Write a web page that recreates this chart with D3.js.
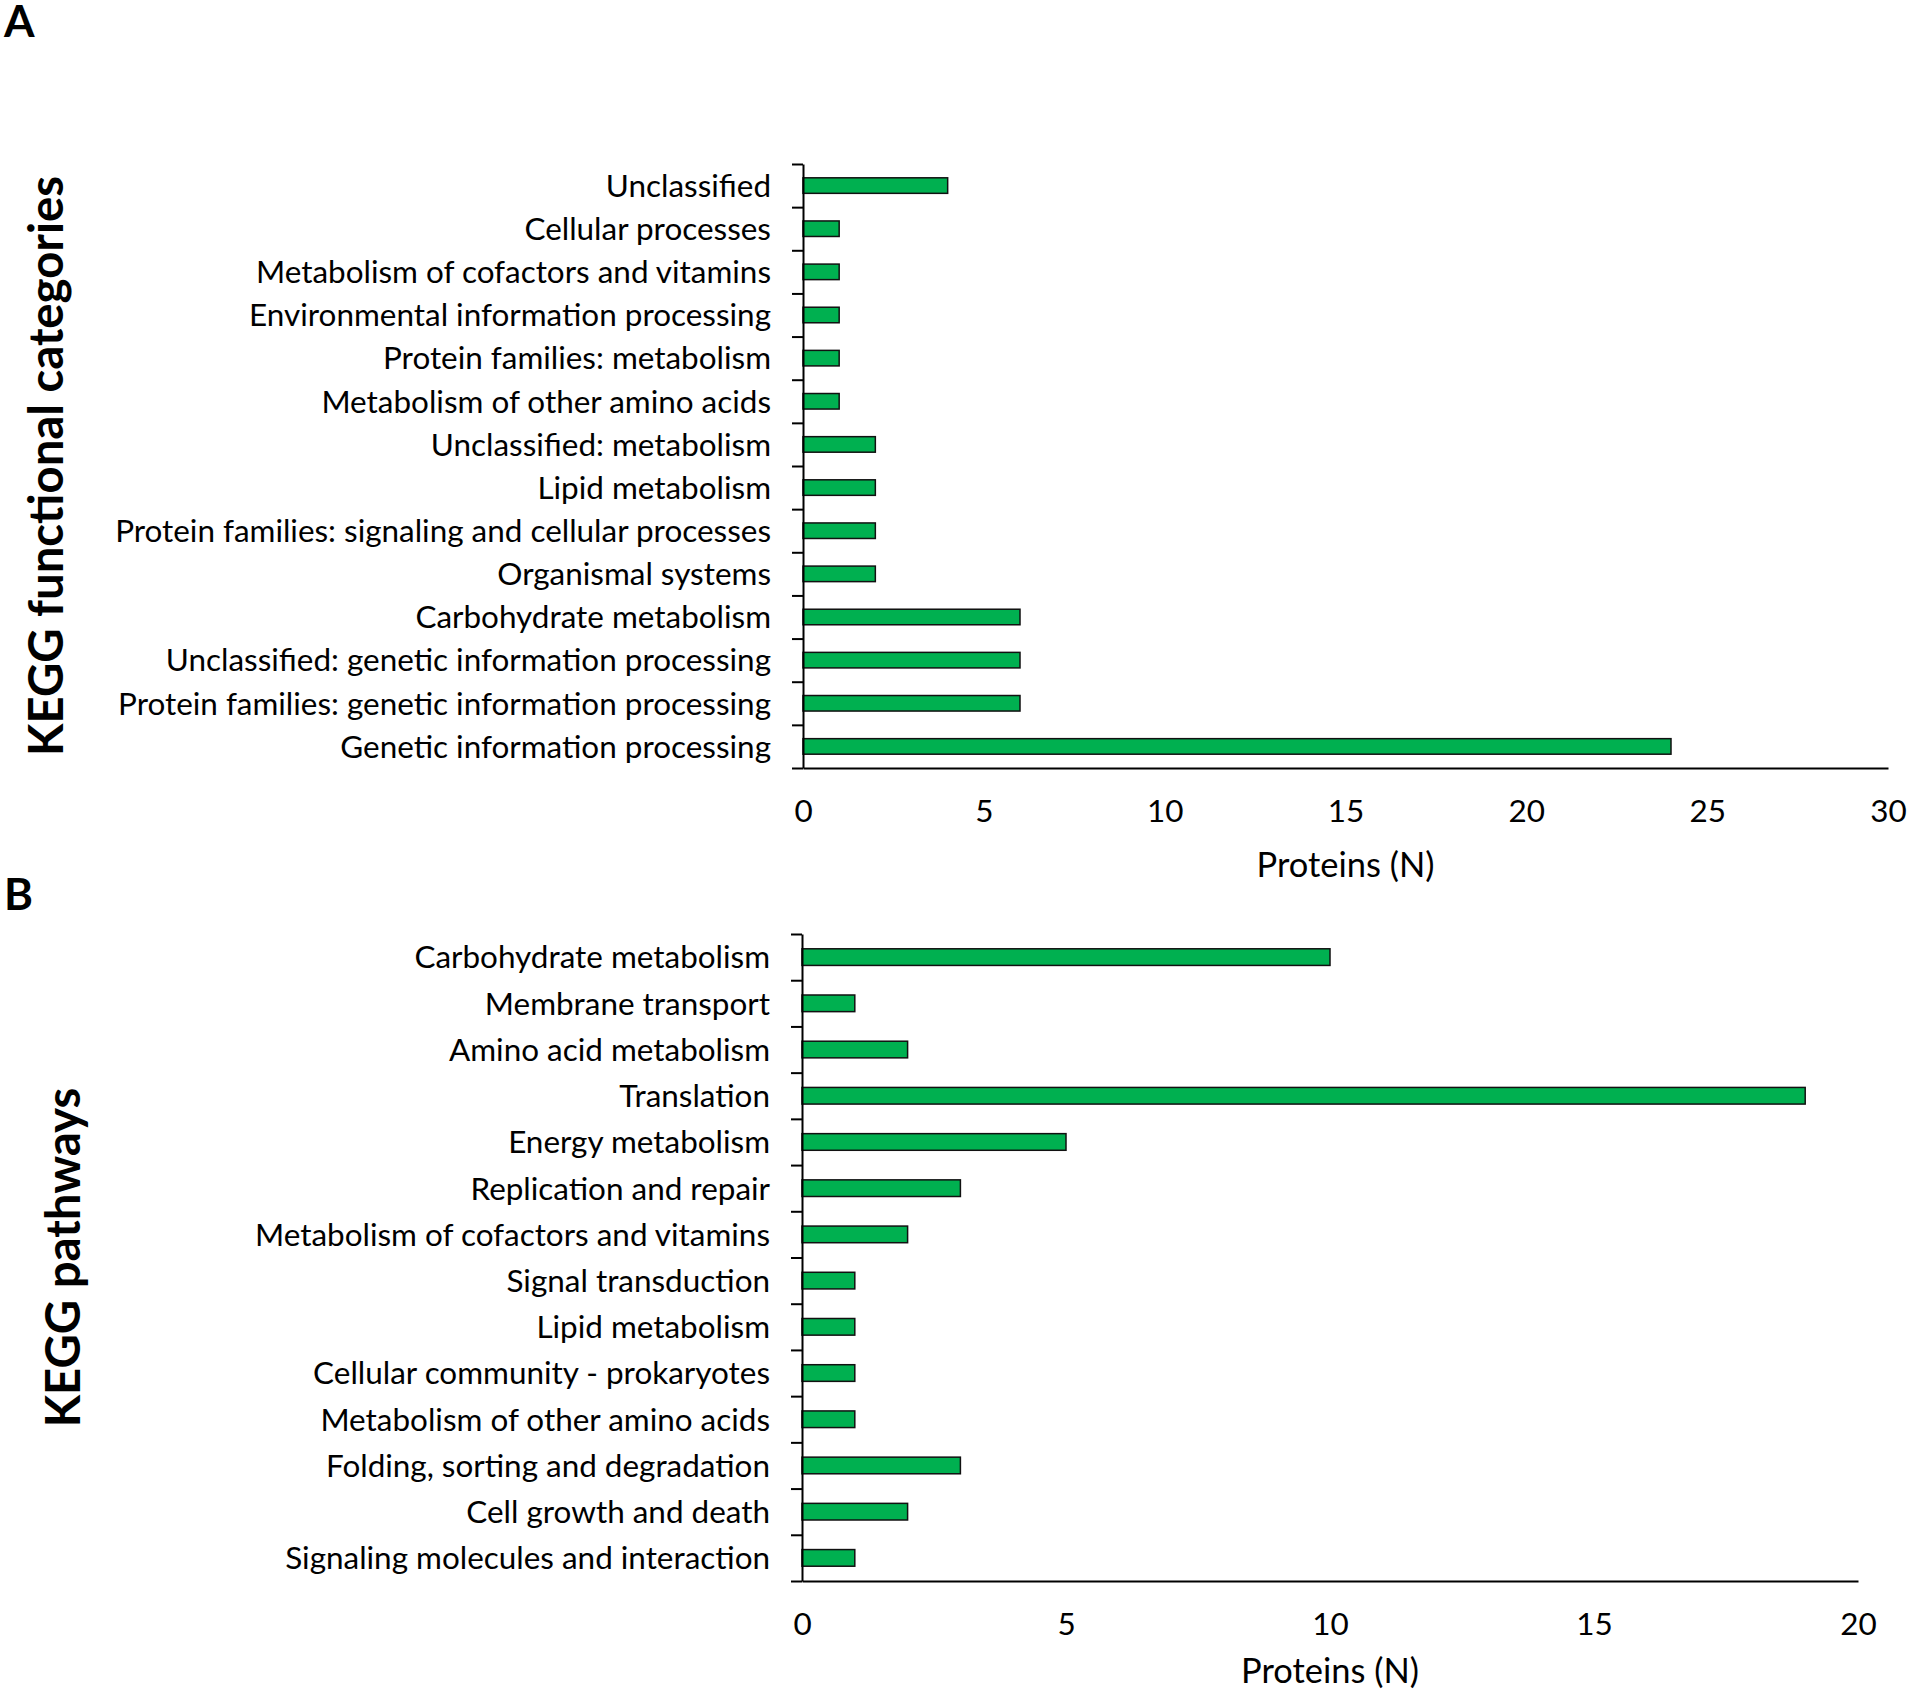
<!DOCTYPE html>
<html>
<head>
<meta charset="utf-8">
<script src="https://cdn.jsdelivr.net/npm/d3@7"></script>
<style>
  body { margin: 0; background: #fff; }
  svg { display: block; }
</style>
</head>
<body>
<div id="chart"></div>
<script>
var svgWidth = 1907;
var svgHeight = 1695;

// panel A: KEGG functional categories (top to bottom)
var catsA = [
  "Unclassified",
  "Cellular processes",
  "Metabolism of cofactors and vitamins",
  "Environmental information processing",
  "Protein families: metabolism",
  "Metabolism of other amino acids",
  "Unclassified: metabolism",
  "Lipid metabolism",
  "Protein families: signaling and cellular processes",
  "Organismal systems",
  "Carbohydrate metabolism",
  "Unclassified: genetic information processing",
  "Protein families: genetic information processing",
  "Genetic information processing"
];
var valuesA = [4, 1, 1, 1, 1, 1, 2, 2, 2, 2, 6, 6, 6, 24];
var ticksA = [0, 5, 10, 15, 20, 25, 30];

// panel B: KEGG pathways (top to bottom)
var catsB = [
  "Carbohydrate metabolism",
  "Membrane transport",
  "Amino acid metabolism",
  "Translation",
  "Energy metabolism",
  "Replication and repair",
  "Metabolism of cofactors and vitamins",
  "Signal transduction",
  "Lipid metabolism",
  "Cellular community - prokaryotes",
  "Metabolism of other amino acids",
  "Folding, sorting and degradation",
  "Cell growth and death",
  "Signaling molecules and interaction"
];
var valuesB = [10, 1, 2, 19, 5, 3, 2, 1, 1, 1, 1, 3, 2, 1];
var ticksB = [0, 5, 10, 15, 20];

var xTitle = "Proteins (N)";

var font = "Lato, 'Open Sans', sans-serif";
var barColor = "#00b050";

var svg = d3.select("#chart")
  .append("svg")
  .attr("width", svgWidth)
  .attr("height", svgHeight);

// measure a string at 100px, used to size the fonts against the picture
function measure(str, weight) {
  var t = svg.append("text")
    .attr("font-family", font)
    .attr("font-weight", weight)
    .attr("font-size", 100)
    .text(str);
  var w = t.node().getComputedTextLength();
  t.remove();
  return w;
}

var labelSize = 100 * 656 / measure("Protein families: signaling and cellular processes", "normal");
var xTitleSize = 100 * 178 / measure(xTitle, "normal");
var titleSize = 100 * 580 / measure("KEGG functional categories", "bold");

function panel(cfg) {
  var n = cfg.cats.length;

  var x = d3.scaleLinear()
    .domain([0, d3.max(cfg.ticks)])
    .range([cfg.left, cfg.right]);

  var y = d3.scaleBand()
    .domain(cfg.cats)
    .range([cfg.top, cfg.bottom])
    .paddingInner(0.64)
    .paddingOuter(0.32);

  var yEdge = d3.scaleLinear()
    .domain([0, n])
    .range([cfg.top, cfg.bottom]);

  var g = svg.append("g");

  g.selectAll("rect")
    .data(cfg.values)
    .enter()
    .append("rect")
    .attr("x", x(0))
    .attr("y", (d, i) => y(cfg.cats[i]))
    .attr("width", d => x(d) - x(0))
    .attr("height", y.bandwidth())
    .attr("fill", barColor)
    .attr("stroke", "#111")
    .attr("stroke-width", 1.5);

  // tick marks between the categories
  var edgeAxis = g.append("g")
    .attr("transform", `translate(${cfg.left}, 0)`)
    .call(d3.axisLeft(yEdge)
      .tickValues(d3.range(n + 1))
      .tickFormat("")
      .tickSizeInner(11)
      .tickSizeOuter(0));
  edgeAxis.selectAll("path, line").attr("stroke", "#000").attr("stroke-width", 2);

  // category labels
  var labelAxis = g.append("g")
    .attr("transform", `translate(${cfg.left}, 0)`)
    .call(d3.axisLeft(y).tickSize(0).tickPadding(32));
  labelAxis.select(".domain").remove();
  labelAxis.selectAll("text")
    .attr("font-family", font)
    .attr("font-size", labelSize)
    .attr("fill", "#000")
    .attr("dy", "0.36em");

  var bottomAxis = g.append("g")
    .attr("transform", `translate(0, ${cfg.bottom})`)
    .call(d3.axisBottom(x).tickValues(cfg.ticks).tickSize(0));
  bottomAxis.select(".domain").attr("stroke", "#000").attr("stroke-width", 2);
  bottomAxis.selectAll("text")
    .attr("font-family", font)
    .attr("font-size", labelSize)
    .attr("fill", "#000")
    .attr("y", 54)
    .attr("dy", null);

  g.append("text")
    .attr("x", (cfg.left + cfg.right) / 2)
    .attr("y", cfg.bottom + cfg.titleGap)
    .attr("text-anchor", "middle")
    .attr("font-family", font)
    .attr("font-size", xTitleSize)
    .text(xTitle);

  g.append("text")
    .attr("transform", `translate(${cfg.yTitleX}, ${(cfg.top + cfg.bottom) / 2}) rotate(-90)`)
    .attr("text-anchor", "middle")
    .attr("font-family", font)
    .attr("font-weight", "bold")
    .attr("font-size", titleSize)
    .text(cfg.yTitle);

  g.append("text")
    .attr("x", 4)
    .attr("y", cfg.letterY)
    .attr("font-family", font)
    .attr("font-weight", "bold")
    .attr("font-size", 44)
    .text(cfg.letter);
}

panel({
  cats: catsA, values: valuesA, ticks: ticksA,
  left: 803, right: 1888, top: 164, bottom: 768,
  titleGap: 109, yTitleX: 63, yTitle: "KEGG functional categories",
  letter: "A", letterY: 37
});

panel({
  cats: catsB, values: valuesB, ticks: ticksB,
  left: 802, right: 1858, top: 934, bottom: 1581,
  titleGap: 102, yTitleX: 80, yTitle: "KEGG pathways",
  letter: "B", letterY: 910
});
</script>
</body>
</html>
